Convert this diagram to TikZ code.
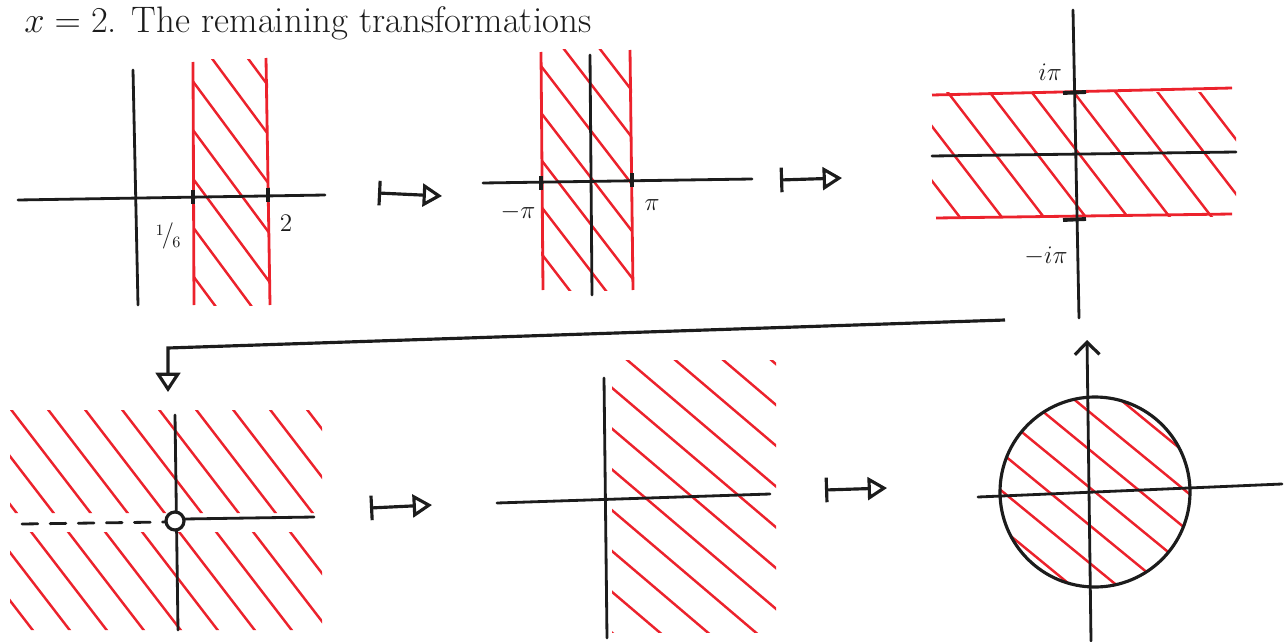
\documentclass[tikz,border=0pt]{standalone}
\usetikzlibrary{arrows.meta}
\definecolor{ink}{RGB}{28,28,28}
\definecolor{hred}{RGB}{236,34,44}
\newcommand{\hatchset}[4]{%
  \foreach \k in {-18,...,18}{%
    \draw[hatch] ({#3+\k*#2-600},{#4-600*#1}) -- ({#3+\k*#2+600},{#4+600*#1});}}
\begin{document}
\begin{tikzpicture}[x=0.02cm,y=-0.02cm,
  axis/.style={draw=ink, line width=1.6pt, line cap=round},
  hatch/.style={draw=hred, line width=1.4pt, line cap=round},
  border/.style={draw=hred, line width=1.6pt},
  tickmark/.style={draw=ink, line width=2.2pt},
  lbl/.style={font=\fontsize{15}{17}\selectfont, text=ink, inner sep=1pt},
  mapsto/.style={draw=ink, line width=1.8pt, {Bar[width=14pt, line width=1.8pt]}-{Triangle[open, length=11pt, width=13pt, line width=1.8pt]}},
]
\useasboundingbox (0,0) rectangle (1284,642);
\clip (0,0) rectangle (1284,642);

% caption
\node[anchor=base west, font=\fontsize{21}{25}\selectfont, text=ink, inner sep=0pt] (caption) at (24,33) {$x=2$. The remaining transformations};

% ---------------- panel 1 ----------------
\begin{scope}
  \clip (193,60) rectangle (268,305);
  \hatchset{1.35}{36}{230}{180}
\end{scope}
\coordinate (s1a) at (193,62);  \coordinate (s1b) at (194,305);
\coordinate (s1c) at (266,58);  \coordinate (s1d) at (270,305);
\draw[border] (s1a) -- (s1b); \draw[border] (s1c) -- (s1d);
\coordinate (h1w) at (18,200); \coordinate (h1e) at (325,195);
\coordinate (v1n) at (133,70); \coordinate (v1s) at (138,305);
\draw[axis] (h1w) -- (h1e);
\draw[axis] (v1n) -- (v1s);
\coordinate (t1a) at (193,190); \coordinate (t1b) at (193,204);
\coordinate (t1c) at (268,188); \coordinate (t1d) at (268,202);
\draw[tickmark] (t1a) -- (t1b); \draw[tickmark] (t1c) -- (t1d);
\node[lbl] (l16) at (168,236) {\raisebox{4pt}{\small 1}\kern-1pt/\kern-1pt\raisebox{-3pt}{\small 6}};
\node[lbl] (l2) at (286,223) {$2$};

% arrow 1
\coordinate (m1a) at (378,193); \coordinate (m1b) at (442,196);
\draw[mapsto] (m1a) -- (m1b);

% ---------------- panel 2 ----------------
\begin{scope}
  \clip (541,50) rectangle (632,290);
  \hatchset{1.3}{36}{585}{170}
\end{scope}
\coordinate (s2a) at (541,52);  \coordinate (s2b) at (543,290);
\coordinate (s2c) at (630,50);  \coordinate (s2d) at (633,290);
\draw[border] (s2a) -- (s2b); \draw[border] (s2c) -- (s2d);
\coordinate (h2w) at (483,183); \coordinate (h2e) at (752,179);
\coordinate (v2n) at (590,55); \coordinate (v2s) at (592,295);
\draw[axis] (h2w) -- (h2e);
\draw[axis] (v2n) -- (v2s);
\coordinate (t2a) at (541,176); \coordinate (t2b) at (541,190);
\coordinate (t2c) at (632,173); \coordinate (t2d) at (632,187);
\draw[tickmark] (t2a) -- (t2b); \draw[tickmark] (t2c) -- (t2d);
\node[lbl] (lmpi) at (518,212) {$-\pi$};
\node[lbl] (lpi) at (652,205) {$\pi$};

% arrow 2
\coordinate (m2a) at (780,180); \coordinate (m2b) at (842,178);
\draw[mapsto] (m2a) -- (m2b);

% ---------------- panel 3 ----------------
\begin{scope}
  \clip (932,93) rectangle (1236,216);
  \hatchset{1.3}{42}{1080}{155}
\end{scope}
\coordinate (s3a) at (932,95);  \coordinate (s3b) at (1232,88);
\coordinate (s3c) at (936,218); \coordinate (s3d) at (1232,214);
\draw[border] (s3a) -- (s3b); \draw[border] (s3c) -- (s3d);
\coordinate (h3w) at (932,156); \coordinate (h3e) at (1236,152);
\coordinate (v3n) at (1073,10); \coordinate (v3s) at (1079,318);
\draw[axis] (h3w) -- (h3e);
\draw[axis] (v3n) -- (v3s);
\coordinate (t3a) at (1063,93); \coordinate (t3b) at (1086,92);
\coordinate (t3c) at (1063,220); \coordinate (t3d) at (1086,219);
\draw[tickmark] (t3a) -- (t3b); \draw[tickmark] (t3c) -- (t3d);
\node[lbl] (lipi) at (1050,72) {$i\pi$};
\node[lbl] (lmipi) at (1046,256) {$-i\pi$};

% bent connector
\coordinate (c1) at (1005,320); \coordinate (c2) at (168,348); \coordinate (c3) at (168,392);
\draw[draw=ink, line width=1.8pt, -{Triangle[open, length=11pt, width=14pt, line width=1.8pt]}] (c1) -- (c2) -- (c3);

% ---------------- panel 4 ----------------
\begin{scope}
  \clip (10,410) rectangle (322,513) (10,532) rectangle (322,630);
  \hatchset{1.3}{37}{170}{520}
\end{scope}
\coordinate (v4n) at (175,415); \coordinate (v4s) at (178,630);
\draw[axis] (v4n) -- (v4s);
\coordinate (h4w) at (22,524); \coordinate (h4m) at (165,522);
\draw[axis, dash pattern=on 9pt off 7pt] (h4w) -- (h4m);
\coordinate (h4c) at (184,519); \coordinate (h4e) at (314,517);
\draw[axis] (h4c) -- (h4e);
\node[draw=ink, line width=1.8pt, circle, fill=white, minimum size=0.36cm, inner sep=0pt] (origin) at (175,521) {};

% arrow 3
\coordinate (m3a) at (370,508); \coordinate (m3b) at (432,505);
\draw[mapsto] (m3a) -- (m3b);

% ---------------- panel 5 ----------------
\begin{scope}
  \clip (612,360) rectangle (776,632);
  \hatchset{0.85}{48}{690}{495}
\end{scope}
\coordinate (h5w) at (497,503); \coordinate (h5e) at (770,494);
\coordinate (v5n) at (604,378); \coordinate (v5s) at (607,638);
\draw[axis] (h5w) -- (h5e);
\draw[axis] (v5n) -- (v5s);

% arrow 4
\coordinate (m4a) at (825,490); \coordinate (m4b) at (887,488);
\draw[mapsto] (m4a) -- (m4b);

% ---------------- panel 6 ----------------
\coordinate (o6) at (1095,492);
\begin{scope}
  \clip (o6) circle [radius=95];
  \hatchset{0.82}{46}{1095}{492}
\end{scope}
\draw[axis, line width=1.8pt] (o6) circle [radius=95];
\coordinate (h6w) at (978,497); \coordinate (h6e) at (1282,484);
\draw[axis] (h6w) -- (h6e);
\coordinate (v6s) at (1091,641); \coordinate (v6n) at (1087,340);
\draw[axis, -{Straight Barb[length=7pt, width=14pt, line width=1.8pt]}] (v6s) -- (v6n);
\end{tikzpicture}
\end{document}
